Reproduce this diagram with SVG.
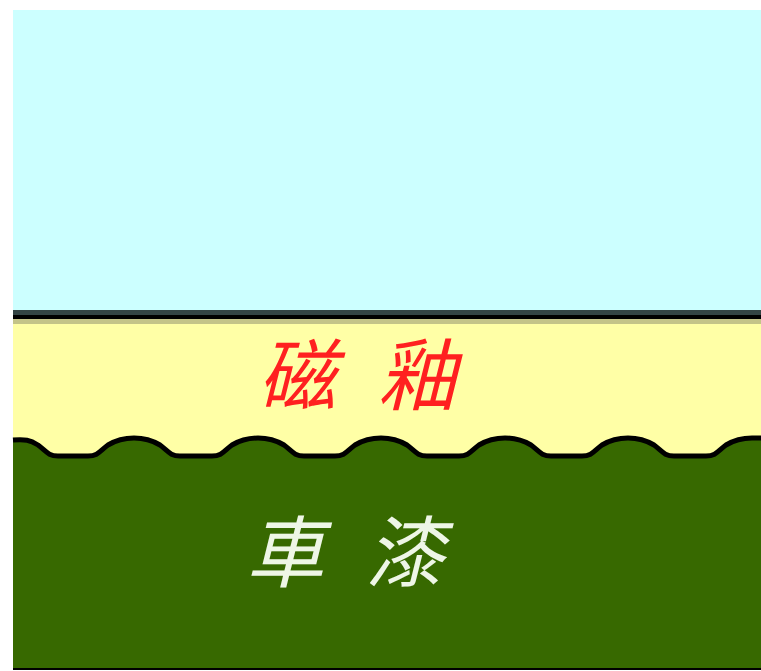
<svg xmlns="http://www.w3.org/2000/svg" width="761" height="671" viewBox="0 0 761 671">
<style>
.cjk{font-family:"Noto Sans CJK TC","Noto Sans CJK SC",sans-serif;font-style:italic;font-size:78px;letter-spacing:42px}
</style>
<rect x="0" y="0" width="761" height="671" fill="#ffffff"/>
<g id="sky">
<rect x="13" y="10" width="748" height="300" fill="#ccffff"/>
</g>
<g id="glaze">
<rect x="13" y="310" width="748" height="5" fill="#334444"/>
<rect x="13" y="315" width="748" height="4" fill="#000000"/>
<rect x="13" y="319" width="748" height="5" fill="#c4c488"/>
<rect x="13" y="324" width="748" height="130" fill="#ffffa6"/>
<text class="cjk" x="258" y="404" fill="#ff2020">磁釉</text>
</g>
<g id="paint">
<path d="M13,440 C25,439 30,440 38,445 C46,451 48,456 58,456 L88,456 C98,456 100,451 108,445 C118,439 125,438 134,438 C143,438 150,439 160,445 C168,451 170,456 180,456 L212,456 C222,456 224,451 232,445 C242,439 249,438 258,438 C267,438 274,439 284,445 C292,451 294,456 304,456 L335,456 C345,456 347,451 355,445 C365,439 372,438 381,438 C390,438 397,439 407,445 C415,451 417,456 427,456 L459,456 C469,456 471,451 479,445 C489,439 496,438 505,438 C514,438 521,439 531,445 C539,451 541,456 551,456 L582,456 C592,456 594,451 602,445 C612,439 619,438 628,438 C637,438 644,439 654,445 C662,451 664,456 674,456 L706,456 C716,456 718,451 726,445 C736,439 743,438 752,438 L761,438 L761,668 L13,668 Z" fill="#376900"/>
<path d="M13,440 C25,439 30,440 38,445 C46,451 48,456 58,456 L88,456 C98,456 100,451 108,445 C118,439 125,438 134,438 C143,438 150,439 160,445 C168,451 170,456 180,456 L212,456 C222,456 224,451 232,445 C242,439 249,438 258,438 C267,438 274,439 284,445 C292,451 294,456 304,456 L335,456 C345,456 347,451 355,445 C365,439 372,438 381,438 C390,438 397,439 407,445 C415,451 417,456 427,456 L459,456 C469,456 471,451 479,445 C489,439 496,438 505,438 C514,438 521,439 531,445 C539,451 541,456 551,456 L582,456 C592,456 594,451 602,445 C612,439 619,438 628,438 C637,438 644,439 654,445 C662,451 664,456 674,456 L706,456 C716,456 718,451 726,445 C736,439 743,438 752,438 L761,438" fill="none" stroke="#000000" stroke-width="5"/>
<rect x="13" y="668" width="748" height="2" fill="#000000"/>
<text class="cjk" x="246" y="581" fill="#eef6e6" font-size="80" letter-spacing="42">車漆</text>
</g>
</svg>
